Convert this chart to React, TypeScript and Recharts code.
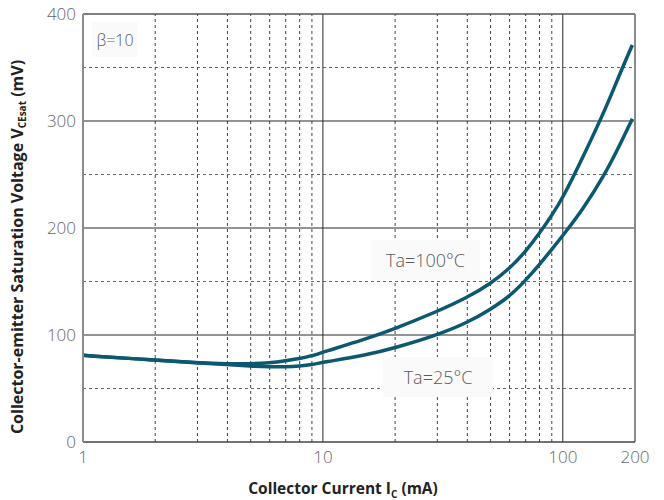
import { LineChart, Line, XAxis, YAxis, ReferenceLine, Label } from 'recharts';

// Collector current (mA) sample points
const currents = [1, 2, 3, 4, 5, 6, 7, 8, 9, 10, 15, 20, 30, 40, 50, 60, 70, 80, 90, 100, 120, 150, 175, 195];
// VCE(sat) in mV at Ta=100°C
const vceHot = [81, 76.5, 74, 73, 73, 74, 76, 78, 80.5, 84, 96, 106, 122, 135, 148, 162, 178, 195, 212, 228, 264, 310, 347, 371];
// VCE(sat) in mV at Ta=25°C
const vceRoom = [81, 76.5, 74, 72.4, 71, 70.2, 70.2, 71, 72.3, 74.5, 81, 88, 100, 111.5, 124, 136, 151, 166, 180, 193, 216, 250, 280, 302];

const xTicks = [1, 10, 100, 200];
const yTicks = [0, 100, 200, 300, 400];
const xMajor = [10, 100];
const xMinor = [2, 3, 4, 5, 6, 7, 8, 9, 20, 30, 40, 50, 60, 70, 80, 90];
const yMajor = [100, 200, 300];
const yMinor = [50, 150, 250, 350];

const data = currents.map((ic, i) => ({ ic, hot: vceHot[i], room: vceRoom[i] }));

const FONT = '"Open Sans", sans-serif';
const LINE = '#0b5870';

const tagStyle = {
  position: 'absolute' as const,
  background: '#fafafa',
  color: '#5a5a5a',
  fontFamily: FONT,
  fontWeight: 300,
  display: 'flex',
  alignItems: 'center',
  justifyContent: 'center',
};

function YTitle({ viewBox }: any) {
  const cx = viewBox.x + 19;
  const cy = viewBox.y + viewBox.height / 2 + 19;
  return (
    <text
      x={cx}
      y={cy}
      transform={`rotate(-90 ${cx} ${cy})`}
      textAnchor="middle"
      dominantBaseline="middle"
      fontFamily={FONT}
      fontWeight={700}
      fontSize={16}
      fill="#222"
    >
      Collector-emitter Saturation Voltage V
      <tspan fontSize={10} dy={4}>CEsat</tspan>
      <tspan dy={-4}> (mV)</tspan>
    </text>
  );
}

function XTitle({ viewBox }: any) {
  const cx = viewBox.x + viewBox.width / 2 - 16;
  return (
    <text x={cx} y={viewBox.y + 52} textAnchor="middle" fontFamily={FONT} fontWeight={700} fontSize={15.5} fill="#222">
      Collector Current  I
      <tspan fontSize={10} dy={4}>C</tspan>
      <tspan dy={-4}> (mA)</tspan>
    </text>
  );
}

export default function App() {
  return (
    <div style={{ position: 'absolute', left: 0, top: 0, width: 664, height: 500, background: '#fff' }}>
      <LineChart width={664} height={500} data={data} margin={{ top: 14, right: 29, bottom: 0, left: 0 }}>
        <XAxis
          dataKey="ic"
          type="number"
          scale="log"
          domain={[1, 200]}
          ticks={xTicks}
          allowDataOverflow
          height={58}
          tickLine={false}
          tickMargin={3}
          axisLine={{ stroke: '#444', strokeWidth: 1.5 }}
          tick={{ fill: '#666', fontSize: 17, fontFamily: FONT, fontWeight: 300 }}
        >
          <Label content={XTitle} />
        </XAxis>
        <YAxis
          type="number"
          domain={[0, 400]}
          ticks={yTicks}
          width={83}
          tickLine={false}
          tickMargin={1}
          axisLine={{ stroke: '#8a8a8a', strokeWidth: 2 }}
          tick={{ fill: '#666', fontSize: 17, fontFamily: FONT, fontWeight: 300 }}
        >
          <Label content={YTitle} />
        </YAxis>
        {yMinor.map((v) => (
          <ReferenceLine key={`ym${v}`} y={v} stroke="#666" strokeDasharray="3 3" />
        ))}
        {xMinor.map((v) => (
          <ReferenceLine key={`xm${v}`} x={v} stroke="#444" strokeDasharray="3 3" />
        ))}
        {yMajor.map((v) => (
          <ReferenceLine key={`yM${v}`} y={v} stroke="#2a2a2a" />
        ))}
        {xMajor.map((v) => (
          <ReferenceLine key={`xM${v}`} x={v} stroke="#2a2a2a" />
        ))}
        <ReferenceLine y={400} stroke="#555" strokeWidth={1.5} />
        <ReferenceLine x={200} stroke="#8a8a8a" strokeWidth={2} />
        <Line type="basis" dataKey="hot" stroke={LINE} strokeWidth={3.5} dot={false} isAnimationActive={false} />
        <Line type="basis" dataKey="room" stroke={LINE} strokeWidth={3.5} dot={false} isAnimationActive={false} />
      </LineChart>
      <div style={{ ...tagStyle, left: 92, top: 22, width: 46, height: 35, fontSize: 16 }}>β=10</div>
      <div style={{ ...tagStyle, left: 371, top: 240, width: 109, height: 40, fontSize: 18 }}>Ta=100°C</div>
      <div style={{ ...tagStyle, left: 383, top: 357, width: 110, height: 40, fontSize: 18 }}>Ta=25°C</div>
    </div>
  );
}
